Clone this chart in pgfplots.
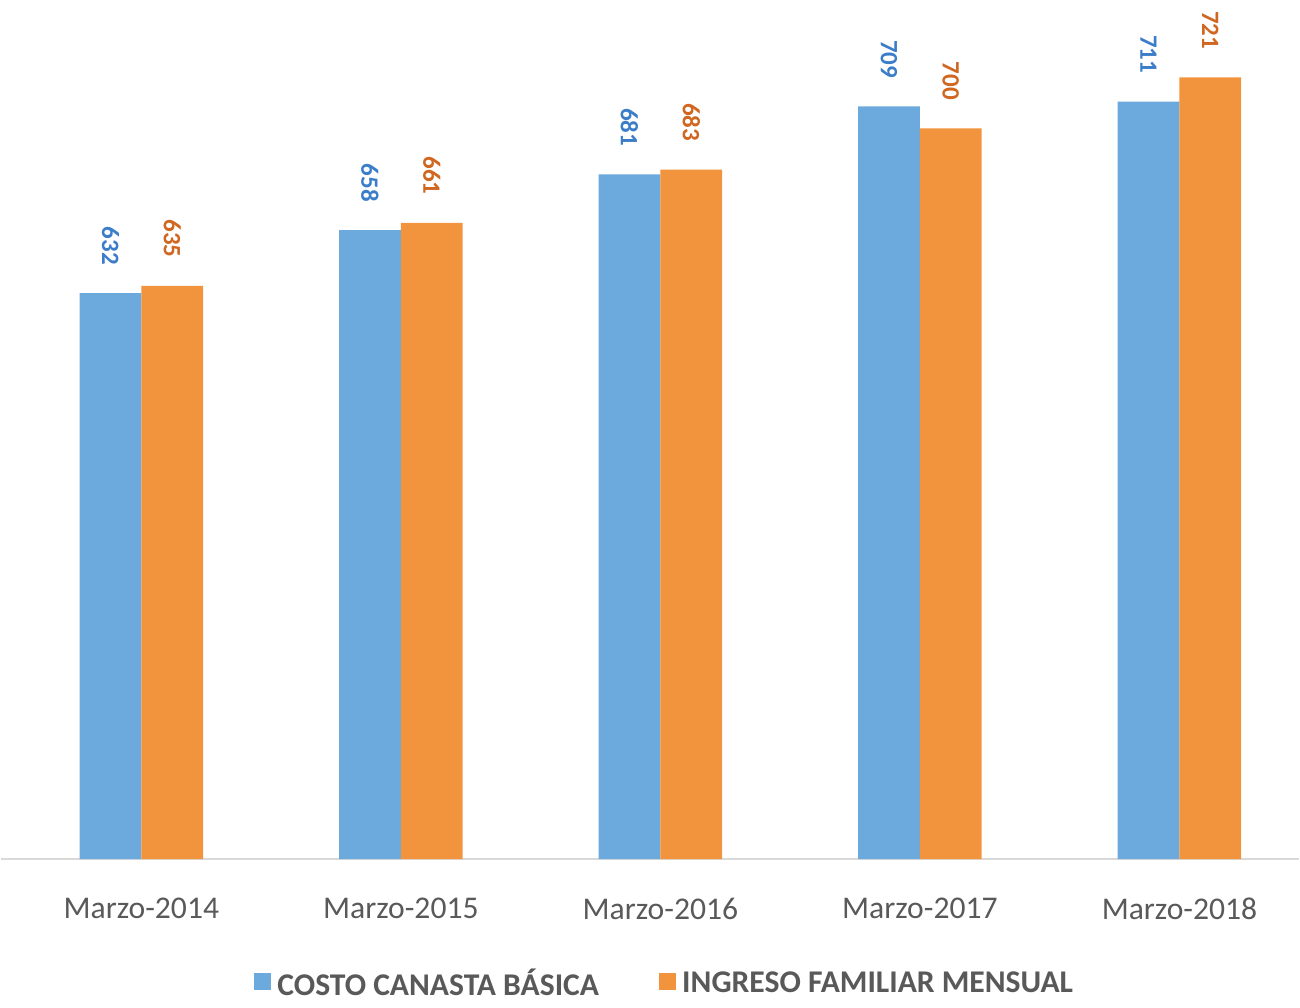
\documentclass[border=0pt]{standalone}
\usepackage{pgfplots}
\pgfplotsset{compat=1.18}
\usepackage{fontspec}
\setmainfont{Carlito}

\definecolor{barblue}{HTML}{6CA9DC}
\definecolor{barorange}{HTML}{F2943E}
\definecolor{lblblue}{HTML}{3B7DC8}
\definecolor{lblorange}{HTML}{D0661F}
\definecolor{txtgray}{HTML}{595959}
\definecolor{axgray}{HTML}{D9D9D9}

\begin{document}
\begin{tikzpicture}
\begin{axis}[
    scale only axis,
    width=390pt, height=260.4pt,
    ybar=0pt,
    bar width=0.238,
    xmin=-0.54, xmax=4.46,
    ymin=398.5, ymax=756,
    axis x line*=bottom,
    axis y line=none,
    x axis line style={draw=axgray, line width=0.7pt, -},
    xtick=data,
    xticklabels={Marzo-2014,Marzo-2015,Marzo-2016,Marzo-2017,Marzo-2018},
    xtick style={draw=none},
    x tick label style={font=\fontsize{9.5}{11}\selectfont, text=txtgray, yshift=-4pt},
    /pgf/number format/assume math mode=true,
    nodes near coords,
    every node near coord/.append style={font=\fontsize{7.5}{9}\selectfont\bfseries, yshift=5pt, rotate=-90, anchor=east},
    clip=false,
    legend columns=2,
    legend style={draw=none, inner sep=0pt, at={(0.513,-0.145)}, anchor=center,
        font=\fontsize{9.5}{11}\selectfont\bfseries, text=txtgray,
        /tikz/every even column/.append style={column sep=16pt}},
    legend image code/.code={\fill[#1] (0pt,-1.6pt) rectangle (5pt,3.4pt);},
]
\addplot[fill=barblue, draw=none, every node near coord/.append style={text=lblblue}]
    coordinates {(0,632) (1,658) (2,681) (3,709) (4,711)};
\addlegendentry{COSTO CANASTA BÁSICA}
\addplot[fill=barorange, draw=none, every node near coord/.append style={text=lblorange}]
    coordinates {(0,635) (1,661) (2,683) (3,700) (4,721)};
\addlegendentry{INGRESO FAMILIAR MENSUAL}
\end{axis}
\end{tikzpicture}
\end{document}
